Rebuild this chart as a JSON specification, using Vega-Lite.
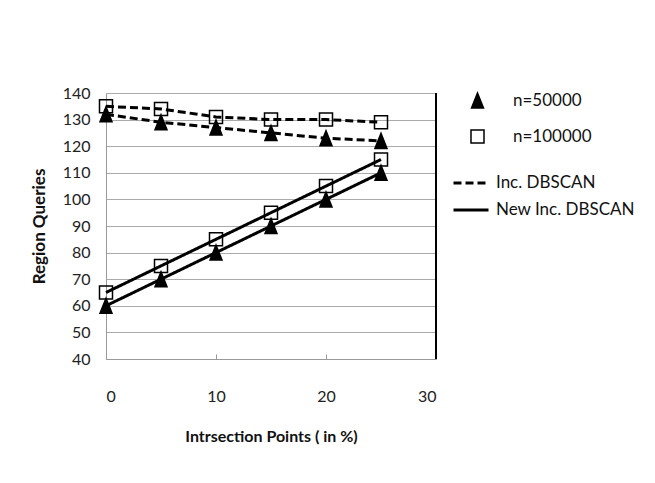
{
  "$schema": "https://vega.github.io/schema/vega-lite/v6.json",
  "autosize": {"type": "none"},
  "width": 330,
  "height": 266,
  "padding": {"left": 106, "top": 93, "right": 219, "bottom": 124},
  "background": "white",
  "config": {
    "font": "Lato",
    "view": {"stroke": null},
    "axis": {"labelFont": "Lato", "titleFont": "Lato", "labelColor": "#222", "titleColor": "#111"}
  },
  "data": {
    "values": [
      {"x": 0, "y": 132, "n": "n=50000", "method": "Inc. DBSCAN"},
      {"x": 5, "y": 129, "n": "n=50000", "method": "Inc. DBSCAN"},
      {"x": 10, "y": 127, "n": "n=50000", "method": "Inc. DBSCAN"},
      {"x": 15, "y": 125, "n": "n=50000", "method": "Inc. DBSCAN"},
      {"x": 20, "y": 123, "n": "n=50000", "method": "Inc. DBSCAN"},
      {"x": 25, "y": 122, "n": "n=50000", "method": "Inc. DBSCAN"},
      {"x": 0, "y": 135, "n": "n=100000", "method": "Inc. DBSCAN"},
      {"x": 5, "y": 134, "n": "n=100000", "method": "Inc. DBSCAN"},
      {"x": 10, "y": 131, "n": "n=100000", "method": "Inc. DBSCAN"},
      {"x": 15, "y": 130, "n": "n=100000", "method": "Inc. DBSCAN"},
      {"x": 20, "y": 130, "n": "n=100000", "method": "Inc. DBSCAN"},
      {"x": 25, "y": 129, "n": "n=100000", "method": "Inc. DBSCAN"},
      {"x": 0, "y": 60, "n": "n=50000", "method": "New Inc. DBSCAN"},
      {"x": 5, "y": 70, "n": "n=50000", "method": "New Inc. DBSCAN"},
      {"x": 10, "y": 80, "n": "n=50000", "method": "New Inc. DBSCAN"},
      {"x": 15, "y": 90, "n": "n=50000", "method": "New Inc. DBSCAN"},
      {"x": 20, "y": 100, "n": "n=50000", "method": "New Inc. DBSCAN"},
      {"x": 25, "y": 110, "n": "n=50000", "method": "New Inc. DBSCAN"},
      {"x": 0, "y": 65, "n": "n=100000", "method": "New Inc. DBSCAN"},
      {"x": 5, "y": 75, "n": "n=100000", "method": "New Inc. DBSCAN"},
      {"x": 10, "y": 85, "n": "n=100000", "method": "New Inc. DBSCAN"},
      {"x": 15, "y": 95, "n": "n=100000", "method": "New Inc. DBSCAN"},
      {"x": 20, "y": 105, "n": "n=100000", "method": "New Inc. DBSCAN"},
      {"x": 25, "y": 115, "n": "n=100000", "method": "New Inc. DBSCAN"}
    ]
  },
  "encoding": {
    "x": {
      "field": "x", "type": "quantitative",
      "scale": {"domain": [0, 30], "nice": false},
      "axis": {
        "title": "Intrsection Points ( in %)",
        "values": [0, 10, 20, 30],
        "grid": false,
        "domainColor": "#999",
        "tickColor": "#999",
        "tickSize": -5,
        "labelPadding": 34,
        "labelFontSize": 16,
        "titleFontSize": 16,
        "titleFontWeight": "bold",
        "titlePadding": 24
      }
    },
    "y": {
      "field": "y", "type": "quantitative",
      "scale": {"domain": [40, 140], "nice": false},
      "axis": {
        "title": "Region Queries",
        "values": [40, 50, 60, 70, 80, 90, 100, 110, 120, 130, 140],
        "grid": true,
        "gridColor": "#aaa",
        "domainColor": "#999",
        "ticks": false,
        "labelPadding": 16,
        "labelFontSize": 16,
        "titleFontSize": 17,
        "titleFontWeight": "bold",
        "titlePadding": 14
      }
    }
  },
  "layer": [
    {
      "mark": {"type": "rule", "color": "black", "strokeWidth": 2},
      "encoding": {"x": {"datum": 30}, "y": {"datum": 40}, "y2": {"datum": 140}}
    },
    {
      "mark": {"type": "line", "color": "black", "strokeWidth": 3},
      "encoding": {
        "strokeDash": {
          "field": "method", "type": "nominal",
          "scale": {"domain": ["Inc. DBSCAN", "New Inc. DBSCAN"], "range": [[8, 4], [1, 0]]},
          "legend": {
            "title": null,
            "orient": "none",
            "legendX": 346,
            "legendY": 71,
            "padding": 0,
            "symbolType": "stroke",
            "symbolSize": 1225,
            "symbolStrokeWidth": 3,
            "symbolStrokeColor": "black",
            "labelFontSize": 17,
            "labelFont": "Lato",
            "labelColor": "#111",
            "labelOffset": 6,
            "rowPadding": -10
          }
        },
        "detail": {"field": "n"}
      }
    },
    {
      "mark": {"type": "point", "opacity": 1, "stroke": "black", "strokeWidth": 1.5},
      "encoding": {
        "shape": {
          "field": "n", "type": "nominal",
          "scale": {"domain": ["n=50000", "n=100000"], "range": ["M-0.8,1L0,-1L0.8,1Z", "square"]},
          "legend": {
            "title": null,
            "orient": "none",
            "legendX": 363,
            "legendY": -1,
            "padding": 0,
            "labelFontSize": 17,
            "labelFont": "Lato",
            "labelColor": "#111",
            "labelOffset": 27,
            "rowPadding": 16,
            "encode": {"symbols": {"update": {"stroke": {"value": "black"}, "strokeWidth": {"value": 1.5}, "opacity": {"value": 1}}}}
          }
        },
        "fill": {
          "field": "n", "type": "nominal",
          "scale": {"domain": ["n=50000", "n=100000"], "range": ["black", "transparent"]},
          "legend": {
            "title": null,
            "orient": "none",
            "legendX": 363,
            "legendY": -1,
            "padding": 0,
            "labelFontSize": 17,
            "labelFont": "Lato",
            "labelColor": "#111",
            "labelOffset": 27,
            "rowPadding": 16,
            "encode": {"symbols": {"update": {"stroke": {"value": "black"}, "strokeWidth": {"value": 1.5}, "opacity": {"value": 1}}}}
          }
        },
        "size": {
          "field": "n", "type": "nominal",
          "scale": {"domain": ["n=50000", "n=100000"], "range": [225, 169]},
          "legend": {
            "title": null,
            "orient": "none",
            "legendX": 363,
            "legendY": -1,
            "padding": 0,
            "labelFontSize": 17,
            "labelFont": "Lato",
            "labelColor": "#111",
            "labelOffset": 27,
            "rowPadding": 16,
            "encode": {"symbols": {"update": {"stroke": {"value": "black"}, "strokeWidth": {"value": 1.5}, "opacity": {"value": 1}}}}
          }
        }
      }
    }
  ]
}
